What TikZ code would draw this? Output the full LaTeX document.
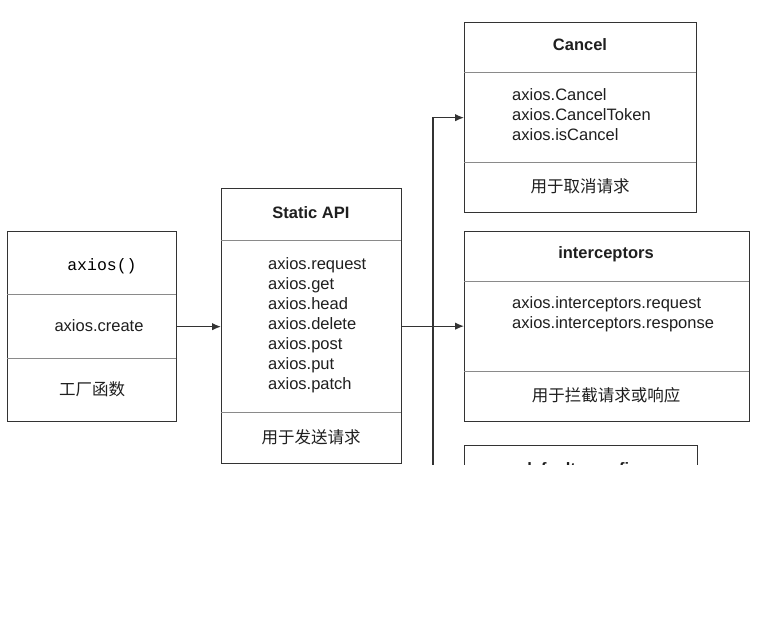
\documentclass[tikz,border=0pt]{standalone}
\usepackage{fontspec}
\setmainfont{Liberation Sans}
\newfontfamily\cjk{Noto Sans CJK SC}
\newfontfamily\monof{Liberation Mono}
\usetikzlibrary{arrows.meta}
\definecolor{edge}{HTML}{333333}
\definecolor{sep}{HTML}{8A8A8A}
\tikzset{
  box/.style={draw=edge, line width=1.3pt, fill=white, rectangle, anchor=north west, inner sep=0pt},
  divider/.style={draw=sep, line width=1pt},
  txt/.style={inner sep=0pt, font=\fontsize{16.5}{20}\selectfont, text=black!88},
  ttl/.style={txt, font=\fontsize{16.5}{20}\selectfont\bfseries},
  zh/.style={txt, font=\fontsize{16.5}{20}\selectfont\cjk},
  lst/.style={txt, align=left, anchor=west},
  conn/.style={draw=edge, line width=1.3pt},
  arr/.style={conn, -{Latex[length=9pt,width=7.5pt]}}
}
\begin{document}
\begin{tikzpicture}[x=1pt,y=-1pt]
\useasboundingbox[fill=white] (0,0) rectangle (782,638);
\begin{scope}
\clip (0,0) rectangle (782,464);
% left box
\node[box, minimum width=169pt, minimum height=190pt] (ax) at (7,231) {};
\draw[divider] (7,294) -- (176,294);
\draw[divider] (7,358) -- (176,358);
\node[txt, font=\fontsize{16.5}{20}\selectfont\monof, text=black] (axfn) at (102,266) {axios()};
\node[txt] (axcr) at (99,326) {axios.create};
\node[zh] (axzh) at (92,389) {工厂函数};
% static api
\node[box, minimum width=180pt, minimum height=275pt] (api) at (221,188) {};
\draw[divider] (221,240) -- (401,240);
\draw[divider] (221,412) -- (401,412);
\node[ttl] (apit) at (311,213) {Static API};
\node[lst] (apil) at (268,325.5) {axios.request\\axios.get\\axios.head\\axios.delete\\axios.post\\axios.put\\axios.patch};
\node[zh] (apizh) at (311,437) {用于发送请求};
% cancel
\node[box, minimum width=232pt, minimum height=190pt] (can) at (464,22) {};
\draw[divider] (464,72) -- (696,72);
\draw[divider] (464,162) -- (696,162);
\node[ttl] (cant) at (580,45) {Cancel};
\node[lst] (canl) at (512,115) {axios.Cancel\\axios.CancelToken\\axios.isCancel};
\node[zh] (canzh) at (580,186) {用于取消请求};
% interceptors
\node[box, minimum width=285pt, minimum height=190pt] (icp) at (464,231) {};
\draw[divider] (464,281) -- (749,281);
\draw[divider] (464,371) -- (749,371);
\node[ttl] (icpt) at (606,254) {interceptors};
\node[lst] (icpl) at (512,314) {axios.interceptors.request\\axios.interceptors.response};
\node[zh] (icpzh) at (606,395) {用于拦截请求或响应};
% defaults (cut off)
\node[box, minimum width=233pt, minimum height=120pt] (def) at (464,445) {};
\node[ttl, anchor=base] (deft) at (580.5,474) {defaults.config};
% connectors
\coordinate (jbot) at (433,470);
\draw[arr] (ax.east) -- (ax.east -| api.west);
\draw[arr] (api.east) -- (api.east -| icp.west);
\draw[arr] (jbot) |- (can.west);
\end{scope}
\end{tikzpicture}
\end{document}
